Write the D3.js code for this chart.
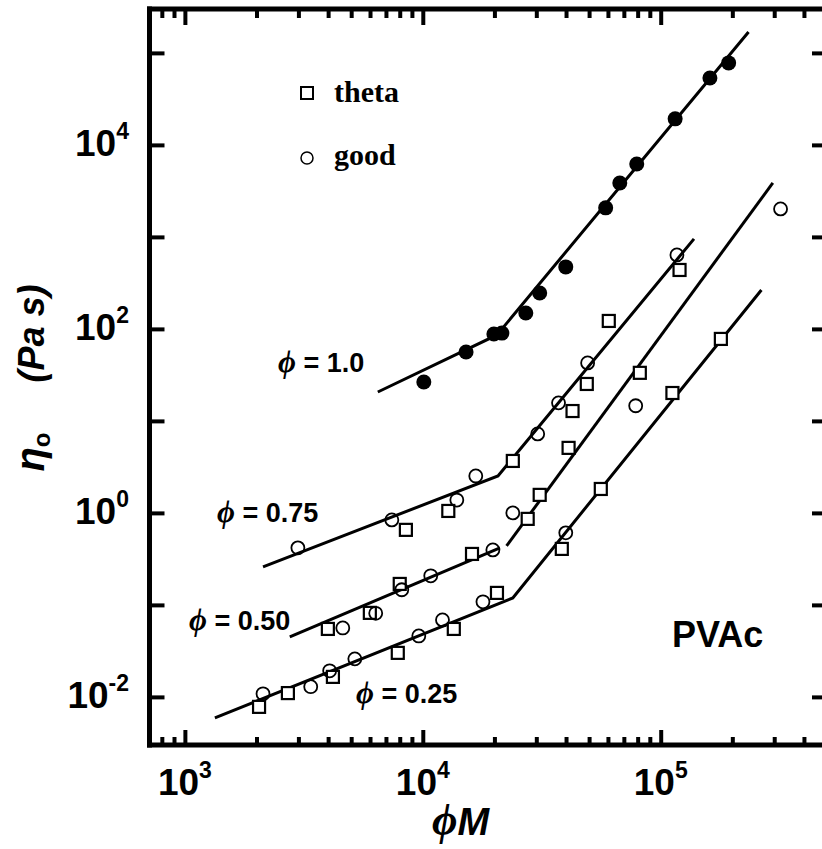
<!DOCTYPE html>
<html>
<head>
<meta charset="utf-8">
<script src="https://cdn.jsdelivr.net/npm/d3@7/dist/d3.min.js"></script>
<style>
  body { margin: 0; background: #fff; }
  svg { display: block; }
</style>
</head>
<body>
<svg id="chart" width="822" height="849"></svg>
<script>
// Zero-shear viscosity of PVAc vs. φM, melt and solutions.

// φ = 1.0 (melt)
const meltM   = [10100, 15200, 19900, 21500, 27100, 31000, 39900, 58700, 67300, 79300, 115000, 161000, 193000];
const meltEta = [26.5, 56, 88, 90, 149, 246, 472, 2070, 3860, 6210, 19200, 53400, 77800];

// φ = 0.75
const p75ThetaM   = [8490, 12800, 23900, 42600, 48900, 60500, 120000];
const p75ThetaEta = [0.654, 1.05, 3.67, 12.8, 25.2, 122, 437];
const p75GoodM    = [2985, 7410, 13900, 16700, 30400, 37200, 49300, 117000];
const p75GoodEta  = [0.417, 0.839, 1.38, 2.52, 7.22, 15.7, 42.7, 637];

// φ = 0.50
const p50ThetaM   = [3990, 5990, 8000, 16100, 27600, 31000, 41000, 81700];
const p50ThetaEta = [0.0548, 0.0819, 0.169, 0.358, 0.861, 1.57, 5.09, 33.3];
const p50GoodM    = [4610, 6340, 8160, 10800, 19700, 23900, 78500, 319000];
const p50GoodEta  = [0.0562, 0.081, 0.146, 0.207, 0.396, 1.0, 14.6, 2015];

// φ = 0.25
const p25ThetaM   = [2050, 2710, 4190, 7850, 13500, 20500, 38400, 56000, 112000, 179000];
const p25ThetaEta = [0.00779, 0.011, 0.0165, 0.0301, 0.0548, 0.135, 0.406, 1.82, 20.1, 77.8];
const p25GoodM    = [2130, 3380, 4060, 5180, 9620, 12100, 17900, 39900];
const p25GoodEta  = [0.0108, 0.0129, 0.0192, 0.0259, 0.046, 0.0687, 0.108, 0.607];

// Fitted power-law segments: [φM, η] vertices of each polyline
const fitLines = [
  [[6470, 20.6], [20500, 86], [234000, 169000]],
  [[2130, 0.259], [20700, 2.52], [138000, 951]],
  [[2760, 0.0449], [21100, 0.417]],
  [[22500, 0.438], [296000, 3860]],
  [[1337, 0.00591], [23900, 0.119], [265000, 265]]
];

// Curve annotations
const phiLabels = ["1.0", "0.75", "0.50", "0.25"];
const phiLabelAt = [[278, 372], [217, 522], [189, 630], [356, 703]];

// Axis ticks
const xMajor = [1e3, 1e4, 1e5];
const xMinor = [800, 900, 2e3, 3e3, 4e3, 5e3, 6e3, 7e3, 8e3, 9e3,
                2e4, 3e4, 4e4, 5e4, 6e4, 7e4, 8e4, 9e4, 2e5, 3e5, 4e5];
const yMajor = [1e-2, 1e-1, 1e0, 1e1, 1e2, 1e3, 1e4, 1e5];
const yLabeled = [1e-2, 1e0, 1e2, 1e4];

const svg = d3.select("#chart");
const L = 149.5, R = 827, T = 9, B = 745;

const x = d3.scaleLog().domain([710, 5e5]).range([L, R]);
const y = d3.scaleLog().domain([3e-3, 3e5]).range([B, T]);

const sans = "'Liberation Sans', Arial, Helvetica, sans-serif";
const serif = "'Liberation Serif', 'Times New Roman', serif";
const PHI = "\u03D5";

function styleAxis(g, w) {
  g.select(".domain").remove();
  g.selectAll(".tick line").attr("stroke", "#000").attr("stroke-width", w);
}

// Inward ticks on all four sides
svg.append("g").attr("transform", `translate(0,${B})`)
  .call(d3.axisBottom(x).tickValues(xMajor).tickSize(-15).tickFormat(""))
  .call(g => styleAxis(g, 4));
svg.append("g").attr("transform", `translate(0,${B})`)
  .call(d3.axisBottom(x).tickValues(xMinor).tickSize(-8).tickFormat(""))
  .call(g => styleAxis(g, 4));
svg.append("g").attr("transform", `translate(0,${T})`)
  .call(d3.axisTop(x).tickValues(xMajor).tickSize(-16).tickFormat(""))
  .call(g => styleAxis(g, 4));
svg.append("g").attr("transform", `translate(0,${T})`)
  .call(d3.axisTop(x).tickValues(xMinor).tickSize(-9).tickFormat(""))
  .call(g => styleAxis(g, 4));
svg.append("g").attr("transform", `translate(${L},0)`)
  .call(d3.axisLeft(y).tickValues(yMajor).tickSize(-15).tickFormat(""))
  .call(g => styleAxis(g, 4));
svg.append("g").attr("transform", `translate(${R},0)`)
  .call(d3.axisRight(y).tickValues(yMajor).tickSize(-15).tickFormat(""))
  .call(g => styleAxis(g, 4));

// Frame (left, top, bottom)
const frame = svg.append("g").attr("stroke", "#000").attr("stroke-width", 5)
  .attr("stroke-linecap", "square");
frame.append("line").attr("x1", L).attr("x2", L).attr("y1", T).attr("y2", B);
frame.append("line").attr("x1", L).attr("x2", R).attr("y1", T).attr("y2", T);
frame.append("line").attr("x1", L).attr("x2", R).attr("y1", B).attr("y2", B);

// Tick labels as 10^n
function expOf(v) { return Math.round(Math.log10(v)); }

svg.append("g").selectAll("text").data(xMajor).join("text")
  .attr("x", d => x(d)).attr("y", 795)
  .attr("text-anchor", "middle")
  .attr("font-family", sans).attr("font-weight", "bold")
  .each(function (d) {
    const t = d3.select(this);
    t.append("tspan").attr("font-size", 37).text("10");
    t.append("tspan").attr("font-size", 23).attr("dy", -17).text(expOf(d));
  });

svg.append("g").selectAll("text").data(yLabeled).join("text")
  .attr("x", 129).attr("y", d => y(d) + 11)
  .attr("text-anchor", "end")
  .attr("font-family", sans).attr("font-weight", "bold")
  .each(function (d) {
    const t = d3.select(this);
    t.append("tspan").attr("font-size", 37).text("10");
    t.append("tspan").attr("font-size", 23).attr("dy", -17).text(expOf(d));
  });

// Axis titles
const xt = svg.append("text").attr("x", 432).attr("y", 835);
xt.append("tspan").attr("font-family", serif).attr("font-style", "italic")
  .attr("font-weight", "bold").attr("font-size", 44).text(PHI);
xt.append("tspan").attr("font-family", sans).attr("font-style", "italic")
  .attr("font-weight", "bold").attr("font-size", 38).text("M");

const yt = svg.append("text")
  .attr("transform", "translate(44,378) rotate(-90)")
  .attr("text-anchor", "middle")
  .attr("font-family", sans).attr("font-weight", "bold").attr("font-style", "italic");
yt.append("tspan").attr("font-size", 40).text("η");
yt.append("tspan").attr("font-size", 24).attr("font-style", "normal").attr("dy", 6).text("o");
yt.append("tspan").attr("font-size", 36).attr("dy", -6).text("\u00a0\u00a0\u00a0\u00a0\u00a0(Pa s)");

// Fit lines
const line = d3.line().x(d => x(d[0])).y(d => y(d[1]));
svg.append("g").selectAll("path").data(fitLines).join("path")
  .attr("d", line).attr("fill", "none")
  .attr("stroke", "#000").attr("stroke-width", 3);

// Markers
function zip(a, b) { return a.map((v, i) => [v, b[i]]); }
const squares = [].concat(
  zip(p75ThetaM, p75ThetaEta), zip(p50ThetaM, p50ThetaEta), zip(p25ThetaM, p25ThetaEta));
const circles = [].concat(
  zip(p75GoodM, p75GoodEta), zip(p50GoodM, p50GoodEta), zip(p25GoodM, p25GoodEta));
const melt = zip(meltM, meltEta);

const sq = 12;
svg.append("g").selectAll("rect").data(squares).join("rect")
  .attr("x", d => x(d[0]) - sq / 2).attr("y", d => y(d[1]) - sq / 2)
  .attr("width", sq).attr("height", sq)
  .attr("fill", "#fff").attr("stroke", "#000").attr("stroke-width", 2.2);

svg.append("g").selectAll("circle").data(circles).join("circle")
  .attr("cx", d => x(d[0])).attr("cy", d => y(d[1])).attr("r", 6.5)
  .attr("fill", "none").attr("stroke", "#000").attr("stroke-width", 1.8);

svg.append("g").selectAll("circle").data(melt).join("circle")
  .attr("cx", d => x(d[0])).attr("cy", d => y(d[1])).attr("r", 7.5)
  .attr("fill", "#000");

// φ annotations
phiLabels.forEach((lab, i) => {
  const t = svg.append("text").attr("x", phiLabelAt[i][0]).attr("y", phiLabelAt[i][1]);
  t.append("tspan").attr("font-family", serif).attr("font-style", "italic")
    .attr("font-weight", "bold").attr("font-size", 31).text(PHI);
  t.append("tspan").attr("font-family", sans).attr("font-weight", "bold")
    .attr("font-size", 27).text(" = " + lab);
});

svg.append("text").attr("x", 672).attr("y", 647)
  .attr("font-family", sans).attr("font-weight", "bold").attr("font-size", 36)
  .text("PVAc");

// Legend
const leg = svg.append("g");
leg.append("rect").attr("x", 301).attr("y", 87).attr("width", 12).attr("height", 12)
  .attr("fill", "none").attr("stroke", "#000").attr("stroke-width", 2);
leg.append("text").attr("x", 334).attr("y", 102)
  .attr("font-family", serif).attr("font-weight", "bold").attr("font-size", 30).text("theta");
leg.append("circle").attr("cx", 307).attr("cy", 158).attr("r", 6)
  .attr("fill", "none").attr("stroke", "#000").attr("stroke-width", 1.5);
leg.append("text").attr("x", 334).attr("y", 165)
  .attr("font-family", serif).attr("font-weight", "bold").attr("font-size", 30).text("good");
</script>
</body>
</html>
